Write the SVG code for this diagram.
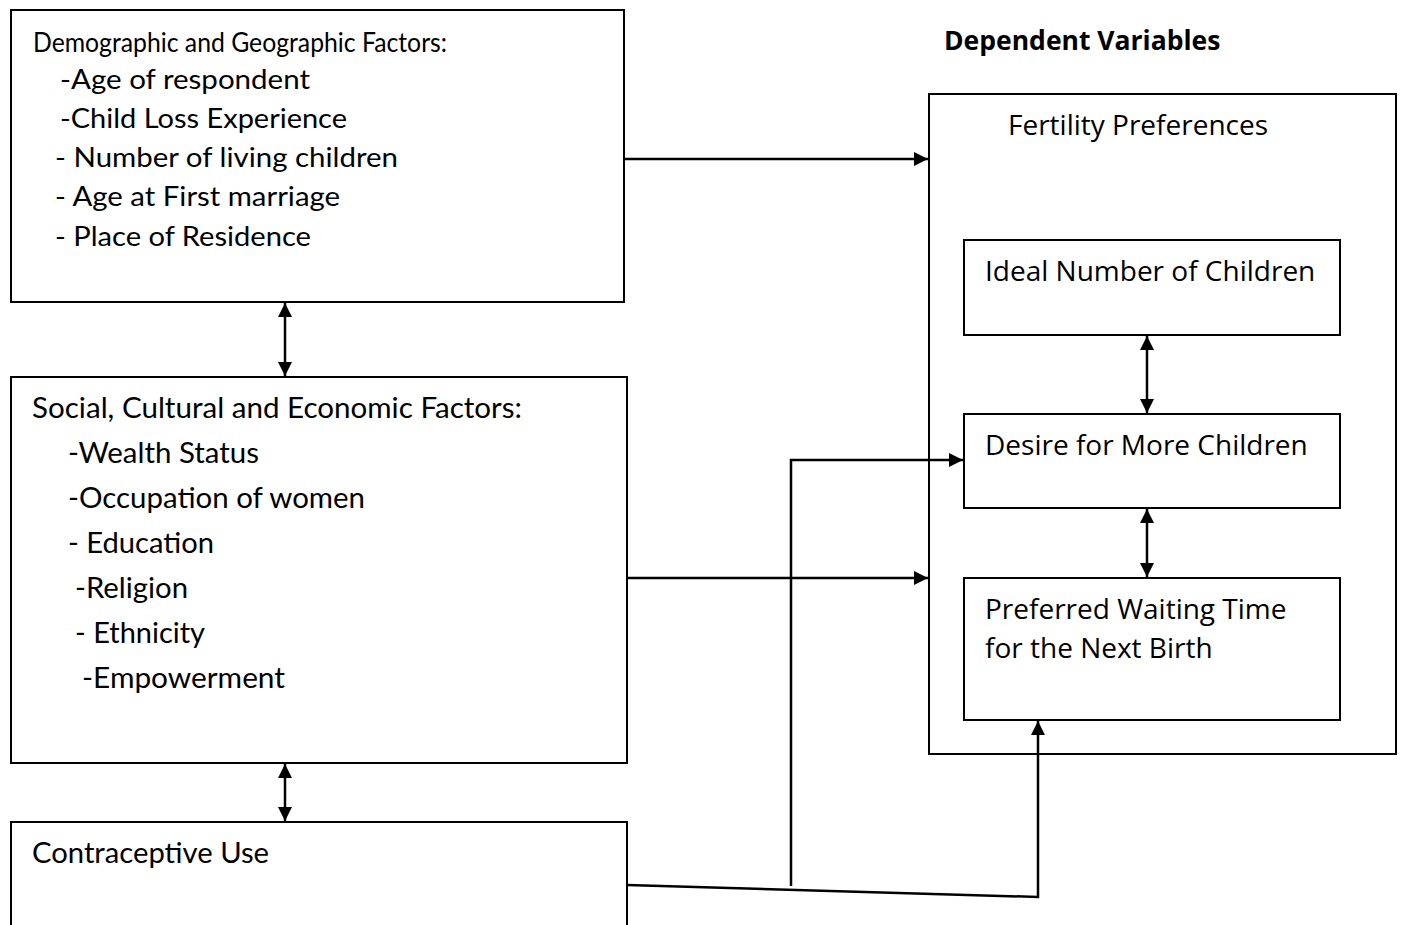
<svg xmlns="http://www.w3.org/2000/svg" width="1403" height="925" viewBox="0 0 1403 925">
<style>
.box{fill:#fff;stroke:#000;stroke-width:2}
.t{font-family:Lato,"Open Sans",sans-serif;font-size:26px;fill:#000}
.t2{font-family:Lato,"Open Sans",sans-serif;font-size:29px;fill:#000}
.r{font-family:"Open Sans",sans-serif;font-size:28px;fill:#000}
.b{font-family:"Open Sans",sans-serif;font-size:26.5px;font-weight:bold;fill:#000}
.c{fill:none;stroke:#000;stroke-width:2.5}
</style>
<defs>
<marker id="ah" viewBox="0 0 10 10" refX="10" refY="5" markerWidth="14" markerHeight="14" markerUnits="userSpaceOnUse" orient="auto-start-reverse">
<path d="M0,0 L10,5 L0,10 z" fill="#000"/>
</marker>
</defs>
<rect width="1403" height="925" fill="#fff"/>
<g id="demographic">
<rect class="box" x="11" y="10" width="613" height="292"/>
<text class="t" x="33" y="52" textLength="414" lengthAdjust="spacingAndGlyphs">Demographic and Geographic Factors:</text>
<text class="t" x="60" y="89" textLength="250" lengthAdjust="spacingAndGlyphs">-Age of respondent</text>
<text class="t" x="60" y="128" textLength="287" lengthAdjust="spacingAndGlyphs">-Child Loss Experience</text>
<text class="t" x="55" y="167" textLength="343" lengthAdjust="spacingAndGlyphs">- Number of living children</text>
<text class="t" x="55" y="206" textLength="285" lengthAdjust="spacingAndGlyphs">- Age at First marriage</text>
<text class="t" x="55" y="246" textLength="256" lengthAdjust="spacingAndGlyphs">- Place of Residence</text>
</g>
<g id="social">
<rect class="box" x="11" y="377" width="616" height="386"/>
<text class="t2" x="32" y="418" textLength="490" lengthAdjust="spacingAndGlyphs">Social, Cultural and Economic Factors:</text>
<text class="t2" x="68" y="463" textLength="191" lengthAdjust="spacingAndGlyphs">-Wealth Status</text>
<text class="t2" x="68" y="508" textLength="297" lengthAdjust="spacingAndGlyphs">-Occupation of women</text>
<text class="t2" x="68" y="553" textLength="146" lengthAdjust="spacingAndGlyphs">- Education</text>
<text class="t2" x="75" y="598" textLength="113" lengthAdjust="spacingAndGlyphs">-Religion</text>
<text class="t2" x="75" y="643" textLength="130" lengthAdjust="spacingAndGlyphs">- Ethnicity</text>
<text class="t2" x="82" y="688" textLength="203" lengthAdjust="spacingAndGlyphs">-Empowerment</text>
</g>
<g id="contraceptive">
<rect class="box" x="11" y="822" width="616" height="130"/>
<text class="t2" x="32" y="863" textLength="237" lengthAdjust="spacingAndGlyphs">Contraceptive Use</text>
</g>
<g id="dependent-label">
<text class="b" x="944" y="50">Dependent Variables</text>
</g>
<g id="fertility">
<rect class="box" x="929" y="94" width="467" height="660"/>
<text class="r" x="1008" y="135">Fertility Preferences</text>
</g>
<g id="ideal">
<rect class="box" x="964" y="240" width="376" height="95"/>
<text class="r" x="985" y="281">Ideal Number of Children</text>
</g>
<g id="desire">
<rect class="box" x="964" y="414" width="376" height="94"/>
<text class="r" x="985" y="455">Desire for More Children</text>
</g>
<g id="preferred">
<rect class="box" x="964" y="578" width="376" height="142"/>
<text class="r" x="985" y="619">Preferred Waiting Time</text>
<text class="r" x="985" y="658">for the Next Birth</text>
</g>
<g id="connectors">
<line class="c" x1="624" y1="159" x2="928" y2="159" marker-end="url(#ah)"/>
<line class="c" x1="627" y1="578" x2="928" y2="578" marker-end="url(#ah)"/>
<line class="c" x1="285" y1="303" x2="285" y2="376" marker-start="url(#ah)" marker-end="url(#ah)"/>
<line class="c" x1="285" y1="764" x2="285" y2="821" marker-start="url(#ah)" marker-end="url(#ah)"/>
<line class="c" x1="1147" y1="336" x2="1147" y2="413" marker-start="url(#ah)" marker-end="url(#ah)"/>
<line class="c" x1="1147" y1="509" x2="1147" y2="577" marker-start="url(#ah)" marker-end="url(#ah)"/>
<polyline class="c" points="791,886 791,460 963,460" marker-end="url(#ah)"/>
<polyline class="c" points="627,885 1038,897 1038,721" marker-end="url(#ah)"/>
</g>
</svg>
